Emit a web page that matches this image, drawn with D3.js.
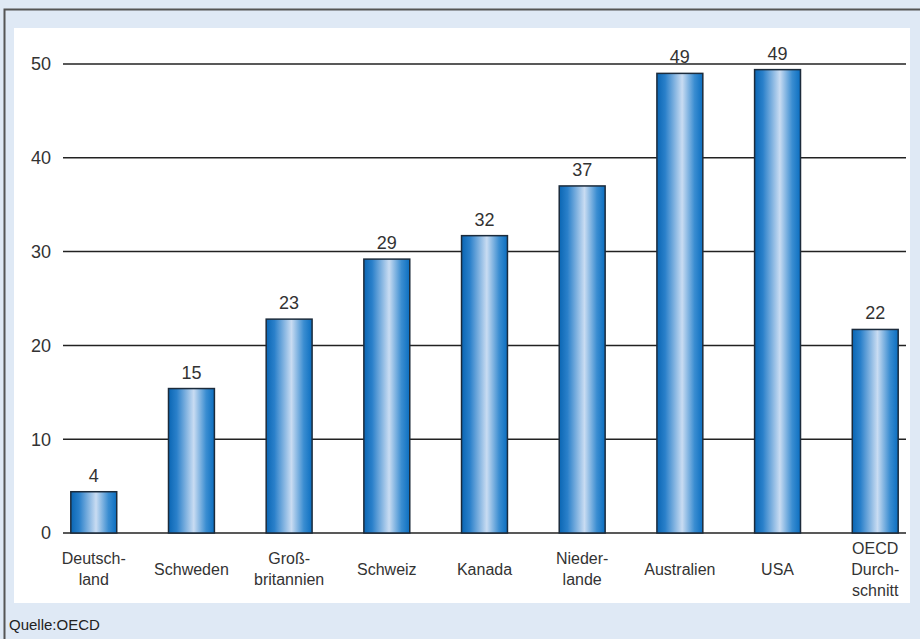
<!DOCTYPE html>
<html>
<head>
<meta charset="utf-8">
<script src="https://cdn.jsdelivr.net/npm/d3@7"></script>
<style>
  body { margin: 0; background: #dfe9f5; }
  svg { display: block; font-family: "Liberation Sans", Arial, sans-serif; }
</style>
</head>
<body>
<div id="chart"></div>
<script>
let categories = [
  ["Deutsch-", "land"],
  ["Schweden"],
  ["Groß-", "britannien"],
  ["Schweiz"],
  ["Kanada"],
  ["Nieder-", "lande"],
  ["Australien"],
  ["USA"],
  ["OECD", "Durch-", "schnitt"],
];
let values = [4.4, 15.4, 22.8, 29.2, 31.7, 37.0, 49.0, 49.4, 21.7];
let ticks = [0, 10, 20, 30, 40, 50];
let source = "Quelle:OECD";

let width = 920,
  height = 639;

let svg = d3
  .select("#chart")
  .append("svg")
  .attr("width", width)
  .attr("height", height);

// gradient for the bars (cylinder look)
let grad = svg
  .append("defs")
  .append("linearGradient")
  .attr("id", "barGrad")
  .attr("x1", "0%")
  .attr("x2", "100%")
  .attr("y1", "0%")
  .attr("y2", "0%");
[
  ["0%", "#0a66b4"],
  ["18%", "#2a80ca"],
  ["55%", "#c9dcf2"],
  ["82%", "#3a8dd1"],
  ["100%", "#0b6ec0"],
].forEach((s) => grad.append("stop").attr("offset", s[0]).attr("stop-color", s[1]));

// outer frame
svg
  .append("rect")
  .attr("x", 4.5)
  .attr("y", 9.5)
  .attr("width", width + 10)
  .attr("height", height + 10)
  .attr("fill", "#dfe9f5")
  .attr("stroke", "#555")
  .attr("stroke-width", 2);

// white panel
svg
  .append("rect")
  .attr("x", 14)
  .attr("y", 28)
  .attr("width", 896)
  .attr("height", 575)
  .attr("fill", "#fff");

let x = d3
  .scaleBand()
  .domain(d3.range(categories.length))
  .range([63, 906])
  .paddingInner(0.53)
  .paddingOuter(0.08);

let y = d3.scaleLinear().domain([0, 50]).range([533, 64]);

// gridlines
svg
  .selectAll(".grid")
  .data(ticks)
  .enter()
  .append("line")
  .attr("x1", 63)
  .attr("x2", 906)
  .attr("y1", (d) => y(d))
  .attr("y2", (d) => y(d))
  .attr("stroke", "#222")
  .attr("stroke-width", 1.5);

// tick labels
svg
  .selectAll(".tick")
  .data(ticks)
  .enter()
  .append("text")
  .attr("x", 51)
  .attr("y", (d) => y(d))
  .attr("dy", "0.36em")
  .attr("text-anchor", "end")
  .attr("font-size", 18)
  .attr("fill", "#333")
  .text((d) => d);

// bars
svg
  .selectAll(".bar")
  .data(values)
  .enter()
  .append("rect")
  .attr("x", (d, i) => x(i))
  .attr("y", (d) => y(d))
  .attr("width", x.bandwidth())
  .attr("height", (d) => y(0) - y(d))
  .attr("fill", "url(#barGrad)")
  .attr("stroke", "#1c2b3b")
  .attr("stroke-width", 1.5);

// value labels
svg
  .selectAll(".val")
  .data(values)
  .enter()
  .append("text")
  .attr("x", (d, i) => x(i) + x.bandwidth() / 2)
  .attr("y", (d) => y(d) - 10)
  .attr("text-anchor", "middle")
  .attr("font-size", 18)
  .attr("fill", "#333")
  .text((d) => Math.round(d));

// category labels
categories.forEach((lines, i) => {
  let t = svg
    .append("text")
    .attr("text-anchor", "middle")
    .attr("font-size", 16)
    .attr("fill", "#333");
  lines.forEach((l, j) => {
    t.append("tspan")
      .attr("x", x(i) + x.bandwidth() / 2)
      .attr("y", 574.5 + (j - (lines.length - 1) / 2) * 21)
      .text(l);
  });
});

// source
svg
  .append("text")
  .attr("x", 9)
  .attr("y", 630)
  .attr("font-size", 15)
  .attr("fill", "#222")
  .text(source);
</script>
</body>
</html>
